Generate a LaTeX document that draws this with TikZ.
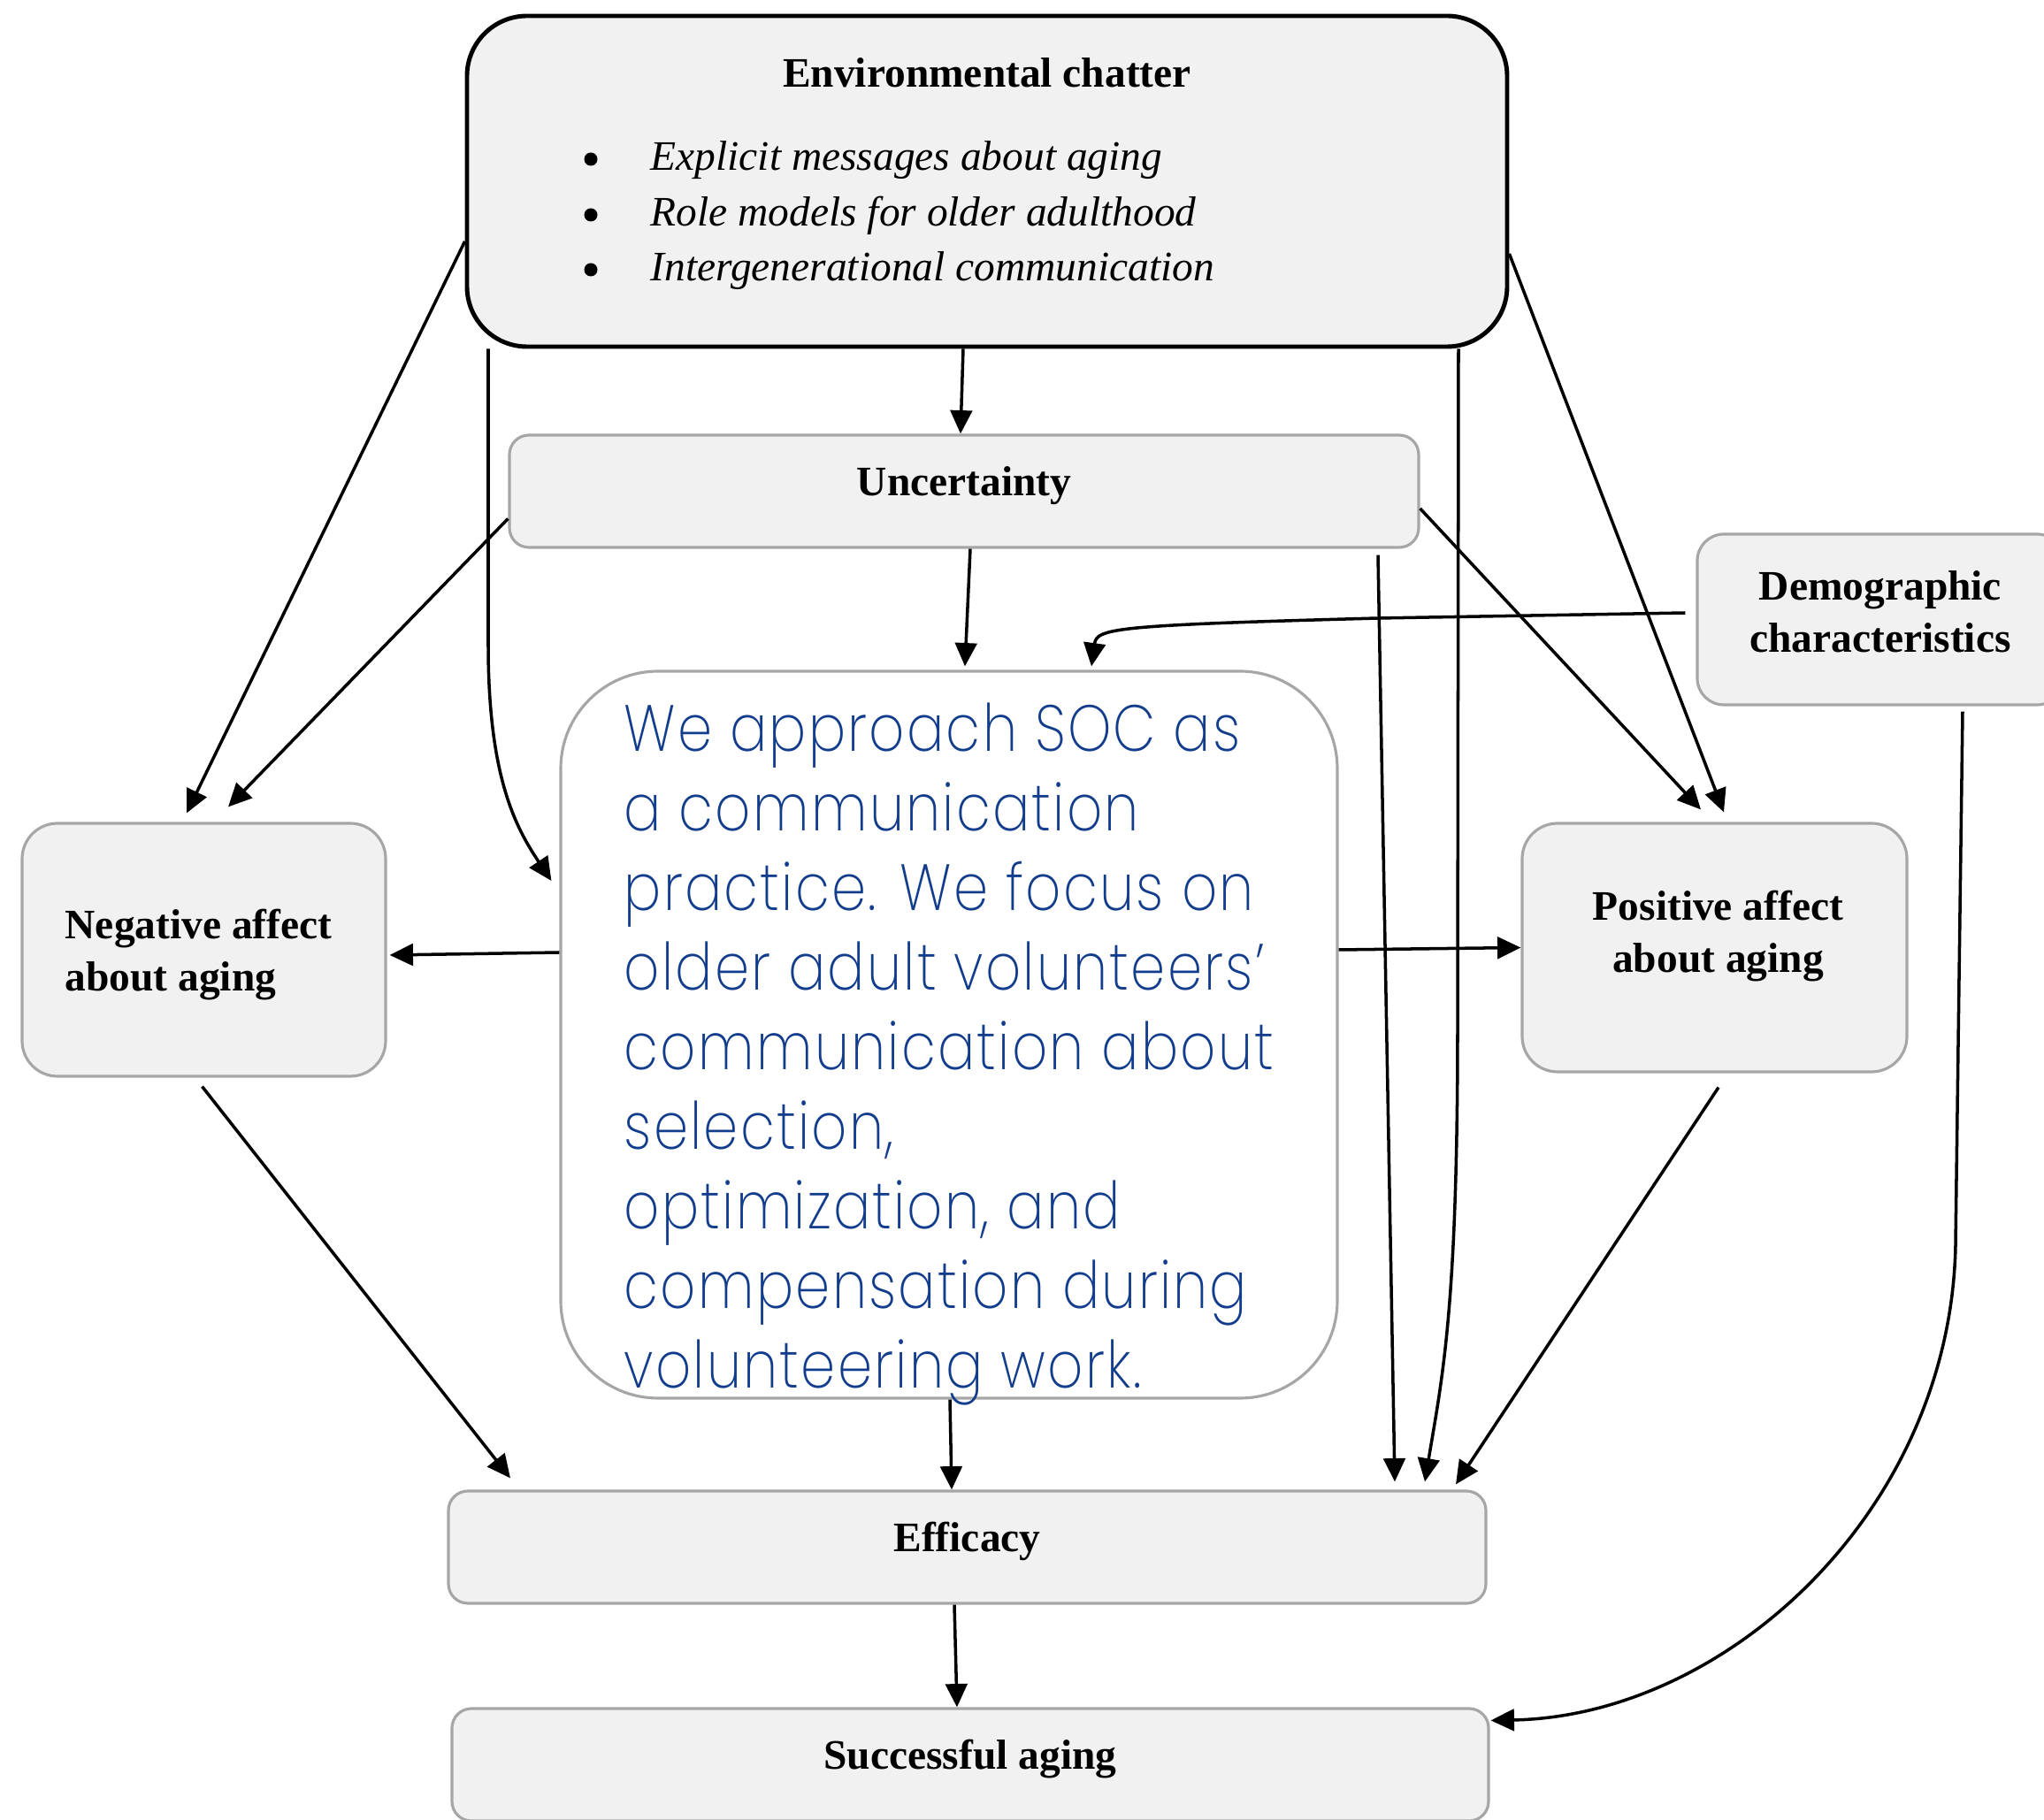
\documentclass[tikz,border=0pt]{standalone}
\usepackage{fontspec}
\setmainfont{Liberation Serif}
\newfontfamily\socfont{Poppins ExtraLight}[FakeStretch=0.85,LetterSpace=3]
\usetikzlibrary{arrows.meta}

\definecolor{boxfill}{RGB}{241,241,241}
\definecolor{boxline}{RGB}{166,166,166}
\definecolor{socblue}{RGB}{18,60,140}

\tikzset{
  box/.style={draw=boxline, line width=0.9pt, fill=boxfill, rounded corners=#1, inner sep=0pt},
  box/.default=0.22cm,
  txt/.style={inner sep=0pt, font=\fontsize{13.5}{16.8}\selectfont},
  boxtxt/.style={inner sep=0pt, align=center, font=\bfseries\fontsize{13.5}{16.8}\selectfont},
  dot/.style={circle, fill=black, inner sep=0pt, minimum size=0.15cm},
  arr/.style={-{Triangle[length=7.5pt,width=7pt]}, line width=1pt},
}

\begin{document}
\begin{tikzpicture}
\clip (0,0) rectangle (23.11,20.57);

% Environmental chatter with its three bullet points
\node[box=0.68cm, draw=black, line width=1.4pt, minimum width=11.76cm, minimum height=3.74cm] (env) at (11.16,18.52) {};
\node[txt, anchor=base, font=\bfseries\fontsize{13.5}{16.8}\selectfont] (envtitle) at (11.16,19.58) {Environmental chatter};
\foreach \txt/\yy [count=\i] in {Explicit messages about aging/18.64, Role models for older adulthood/18.01, Intergenerational communication/17.39} {
  \node[dot] (bullet\i) at (6.68,\yy+0.13) {};
  \node[txt, anchor=base west, font=\itshape\fontsize{13.5}{16.8}\selectfont] (envitem\i) at (7.35,\yy) {\txt};
}

% Boxes
\node[box, minimum width=10.28cm, minimum height=1.27cm] (unc) at (10.90,15.015) {};
\node[box=0.3cm, minimum width=4.14cm, minimum height=1.93cm] (demo) at (21.26,13.565) {};
\node[box=0.4cm, minimum width=4.11cm, minimum height=2.86cm] (neg) at (2.305,9.83) {};
\node[box=0.4cm, minimum width=4.35cm, minimum height=2.81cm] (pos) at (19.385,9.855) {};
\node[box=1.1cm, fill=white, minimum width=8.78cm, minimum height=8.22cm] (soc) at (10.73,8.87) {};
\node[box, minimum width=11.73cm, minimum height=1.27cm] (eff) at (10.935,3.075) {};
\node[box, minimum width=11.72cm, minimum height=1.27cm] (succ) at (10.97,0.615) {};

% Box labels
\node[boxtxt] (unclabel) at ([yshift=0.06cm]unc.center) {Uncertainty};
\node[boxtxt] (demolabel) at ([yshift=0.09cm]demo.center) {Demographic\\characteristics};
\node[boxtxt, align=left] (neglabel) at ([xshift=-0.06cm,yshift=-0.06cm]neg.center) {Negative affect\\about aging};
\node[boxtxt] (poslabel) at ([xshift=0.04cm,yshift=0.13cm]pos.center) {Positive affect\\about aging};
\node[boxtxt] (efflabel) at ([yshift=0.07cm]eff.center) {Efficacy};
\node[boxtxt] (succlabel) at ([yshift=0.06cm]succ.center) {Successful aging};

% SOC text, one node per line
\foreach \txt [count=\i, evaluate=\i as \yy using 12.07-0.9*(\i-1)] in {We approach SOC as, a communication, practice. We focus on, older adult volunteers’, communication about, {selection,}, {optimization, and}, compensation during, volunteering work.} {
  \node[inner sep=0pt, anchor=base west, text=socblue, font=\socfont\fontsize{21}{25.6}\selectfont] (socline\i) at (7.05,\yy) {\txt};
}

% Connectors
\draw[arr] ([xshift=-0.27cm]env.south) -- ([xshift=-0.04cm]unc.north);
\draw[arr] ([yshift=-0.68cm]env.west) -- ([xshift=-0.195cm,yshift=0.1cm]neg.north);
\draw[arr] ([yshift=-0.31cm]unc.west) -- ([xshift=0.275cm,yshift=0.17cm]neg.north);
\draw[arr] ([xshift=-5.64cm]env.south) -- ++(0,-3.35) .. controls +(0,-1.5) and +(-0.4,0.6) .. ([xshift=-0.09cm,yshift=1.74cm]soc.west);
\draw[arr] ([yshift=-0.82cm]env.east) -- ([xshift=0.105cm,yshift=0.11cm]pos.north);
\draw[arr] ([yshift=-0.195cm]unc.east) -- ([xshift=-0.155cm,yshift=0.14cm]pos.north);
\draw[arr] ([xshift=0.07cm]unc.south) -- ([xshift=0.18cm,yshift=0.04cm]soc.north);
\draw[arr] ([xshift=-0.12cm,yshift=0.075cm]demo.west) -- ++(-3.47,-0.06) .. controls +(-3,-0.08) and +(0.06,0.43) .. ([xshift=1.61cm,yshift=0.04cm]soc.north);
\draw[arr] ([yshift=0.93cm]soc.west) -- ([xshift=0.03cm,yshift=-0.06cm]neg.east);
\draw[arr] ([yshift=0.96cm]soc.east) -- (pos.west);
\draw[arr] ([xshift=-0.02cm,yshift=-0.1cm]neg.south) -- ([xshift=-5.165cm,yshift=0.13cm]eff.north);
\draw[arr] ([xshift=0.01cm]soc.south) -- ([xshift=-0.175cm]eff.north);
\draw[arr] ([xshift=4.68cm,yshift=-0.07cm]unc.south) -- ([xshift=4.835cm,yshift=0.09cm]eff.north);
\draw[arr] ([xshift=5.33cm]env.south) -- ++(-0.01,-7.65) .. controls +(0,-3.2) and +(0.2,1.2) .. ([xshift=5.175cm,yshift=0.09cm]eff.north);
\draw[arr] ([xshift=0.045cm,yshift=-0.16cm]pos.south) -- ([xshift=5.525cm,yshift=0.06cm]eff.north);
\draw[arr] ([xshift=0.93cm,yshift=-0.06cm]demo.south) -- ++(-0.08,-6.04) .. controls +(-0.06,-3) and +(2.66,0.05) .. ([xshift=0.01cm,yshift=-0.15cm]succ.north east);
\draw[arr] ([xshift=-0.145cm]eff.south) -- ([xshift=-0.15cm]succ.north);

\end{tikzpicture}
\end{document}
